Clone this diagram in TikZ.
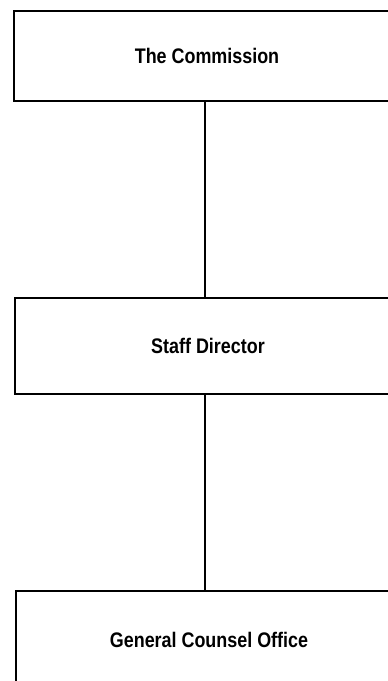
\documentclass[tikz,border=0pt]{standalone}
\usepackage{fontspec}
\setsansfont{Liberation Sans}[FakeStretch=0.85]
\usetikzlibrary{positioning}

\begin{document}
\begin{tikzpicture}[
    x=0.02cm, y=-0.02cm,
    font=\sffamily\bfseries\fontsize{12}{14}\selectfont,
    % Define styles for the boxes
    orgbox/.style={rectangle, draw=black, line width=1.1pt, minimum width=7.72cm, inner sep=0pt},
    link/.style={draw=black, line width=1.1pt}
]
\clip (0,0) rectangle (388,681);
\useasboundingbox (0,0) rectangle (388,681);

% ==========================================
% Chain of offices
% ==========================================
\node[orgbox, minimum height=1.8cm] (commission) at (207,56) {The Commission};
\node[orgbox, minimum height=1.92cm] (director) at (208,346) {Staff Director};
\node[orgbox, minimum height=1.96cm] (counsel) at (209,640) {General Counsel Office};

\draw[link] (commission.south -| 205,0) -- (director.north -| 205,0);
\draw[link] (director.south -| 205,0) -- (counsel.north -| 205,0);

\end{tikzpicture}
\end{document}
